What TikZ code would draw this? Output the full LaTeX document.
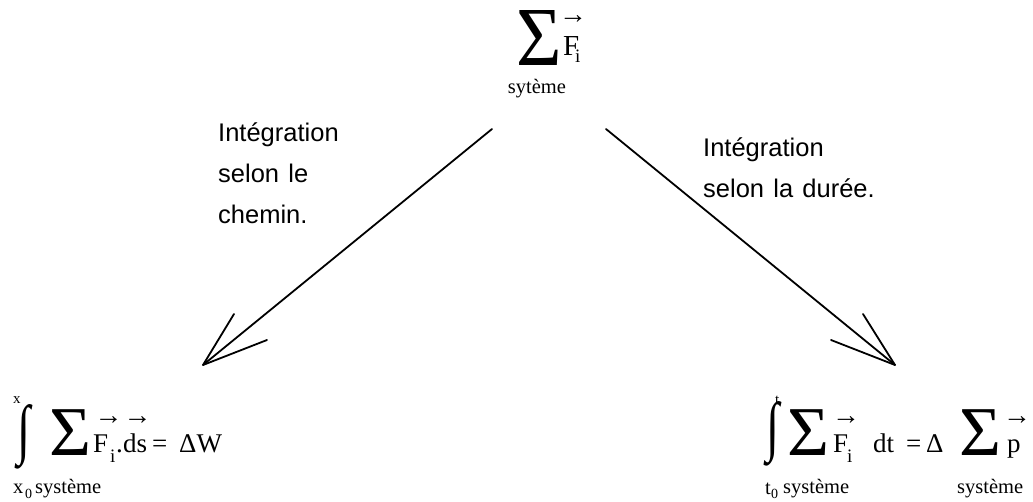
\documentclass[tikz,border=0pt]{standalone}
\usepackage{fontspec}
\usepackage{graphicx}
\setmainfont{Liberation Serif}
\newfontfamily\arialfont[WordSpace=1.3]{Liberation Sans}
\usetikzlibrary{positioning}

\newcommand{\fsz}[1]{\fontsize{#1}{#1}\selectfont}
\newcommand{\bigsig}[2]{\scalebox{#1}[1]{\fsz{#2}Σ}}
\newcommand{\integ}{\resizebox{13pt}{47pt}{∫}}

\begin{document}
\begin{tikzpicture}[x=1pt,y=-1pt,
  every node/.style={inner sep=0pt},
  txt/.style={font=\arialfont\fsz{25.5},anchor=base west},
  frm/.style={font=\fsz{27},anchor=base west},
  sig/.style={anchor=base west},
  ind/.style={font=\fsz{19},anchor=base west},
  lim/.style={font=\fsz{20.5},anchor=base west},
  vec/.style={font=\fsz{28}},
  conn/.style={line width=1.8pt,line cap=round,line join=round}]
  \useasboundingbox (0,0) rectangle (1033,501);

  % somme des forces
  \node[sig] (sumtop) at (516,65) {\bigsig{0.93}{84}};
  \node[frm,font=\fsz{29}] (ftop) at (563,55) {F};
  \node[ind] (itop) at (575,62) {i};
  \node[vec] (vtop) at (573,20) {→};
  \node[lim,anchor=base] (systop) at (537,93) {sytème};

  % chemin
  \node (intl) at (24,437) {\integ};
  \node[font=\fsz{15},anchor=base west] (xup) at (13,403) {x};
  \node[lim] (xlow) at (13,493) {x};
  \node[font=\fsz{14},anchor=base west] (xlowi) at (25,498) {0};
  \node[lim] (sysl) at (35,493) {système};
  \node[sig] (suml) at (49,455) {\bigsig{1.03}{70}};
  \node[frm] (fl) at (93,452) {F};
  \node[ind] (il) at (110,462) {i};
  \node[vec] (vfl) at (108.5,421) {→};
  \node[frm] (dotl) at (116,452) {.};
  \node[frm] (dsl) at (123,452) {ds};
  \node[vec] (vdsl) at (137.5,421) {→};
  \node[frm] (eql) at (152,452) {=};
  \node[frm] (dwl) at (179,452) {ΔW};

  % duree
  \node (intr) at (773,434) {\integ};
  \node[font=\fsz{15},anchor=base west] (tup) at (775,404) {t};
  \node[lim] (tlow) at (765,494) {t};
  \node[font=\fsz{14},anchor=base west] (tlowi) at (771,498) {0};
  \node[lim] (sysr) at (783,493) {système};
  \node[sig] (sumr) at (787,455) {\bigsig{1.03}{70}};
  \node[frm] (fr) at (833,452) {F};
  \node[ind] (ir) at (847,462) {i};
  \node[vec] (vfr) at (846,421) {→};
  \node[frm] (dtr) at (873,452) {dt};
  \node[frm] (eqr) at (906,452) {=};
  \node[frm] (deltar) at (926,452) {Δ};
  \node[sig] (sumr2) at (959,455) {\bigsig{1.03}{70}};
  \node[frm] (pr) at (1007,452) {p};
  \node[vec] (vpr) at (1017,421) {→};
  \node[lim] (sysr2) at (957,493) {système};

  % textes
  \node[txt] (chemin1) at (218,141.7) {Intégration};
  \node[txt] (chemin2) at (218,182.5) {selon le};
  \node[txt] (chemin3) at (218,223) {chemin.};
  \node[txt] (duree1) at (703,156.7) {Intégration};
  \node[txt] (duree2) at (703,197.7) {selon la durée.};

  % fleches
  \coordinate (startl) at (492,129);
  \coordinate (tipl) at (203,365);
  \coordinate (barbl1) at (234,314);
  \coordinate (barbl2) at (267,340);
  \coordinate (startr) at (606,129);
  \coordinate (tipr) at (895,365);
  \coordinate (barbr1) at (863,314);
  \coordinate (barbr2) at (831,340);
  \draw[conn] (startl) -- (tipl);
  \draw[conn] (barbl1) -- (tipl) -- (barbl2);
  \draw[conn] (startr) -- (tipr);
  \draw[conn] (barbr1) -- (tipr) -- (barbr2);
\end{tikzpicture}
\end{document}
